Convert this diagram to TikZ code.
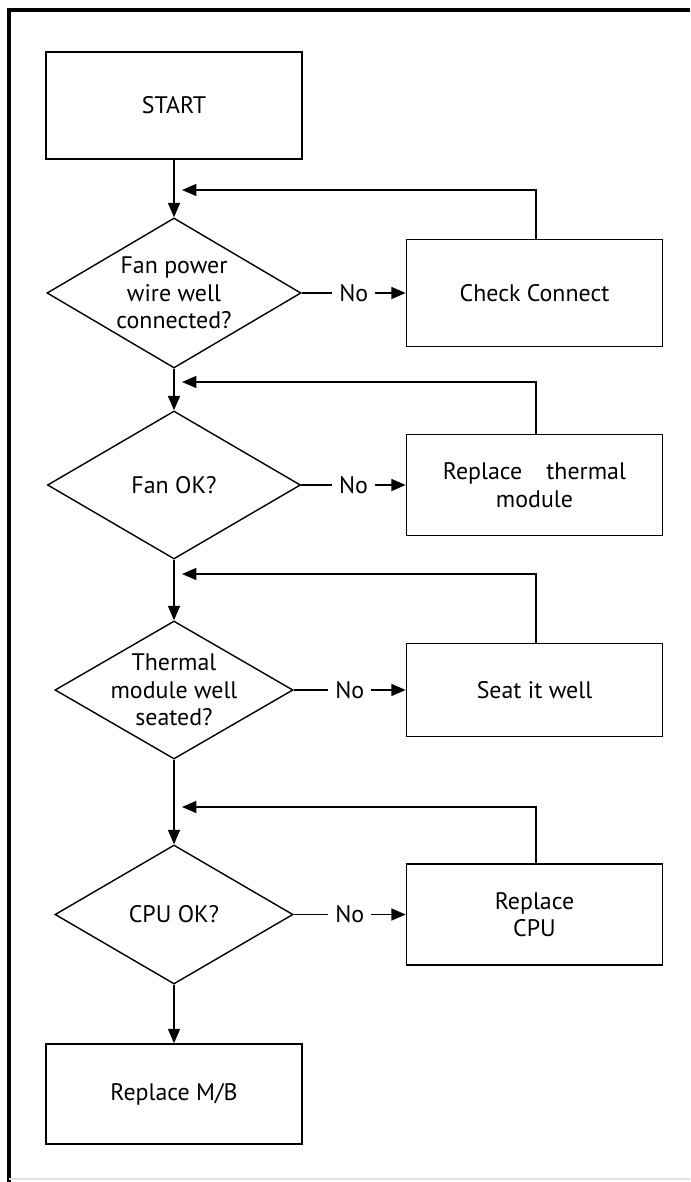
\documentclass[tikz,border=0pt]{standalone}
\usepackage{fontspec}
\setmainfont{PT Sans}
\usetikzlibrary{shapes.geometric,arrows.meta}
\begin{document}
\begin{tikzpicture} [x = 0.025cm, y = -0.025cm,
	font = \fontsize{17}{19.5}\selectfont,
	box/.style = {draw, line width = 1.1pt, minimum width = 6.4cm, inner sep = 0, align = center},
	decision/.style = {draw, diamond, line width = 1pt, inner sep = 0},
	arr/.style = {-{Triangle[length = 0.36cm, width = 0.3cm]}, line width = 1.1pt},
	nolabel/.style = {fill = white, inner xsep = 0.17cm, inner ysep = 0.05cm}]
	\useasboundingbox (0,0) rectangle (690,1182);
	\draw [line width = 2.6pt] (690,10) -- (9,10) -- (9,1182);
	\draw [black!12, line width = 1pt] (9,1179) -- (690,1179);
	\node [box, minimum height = 2.675cm] (start) at (174,105.5) {START};
	\node [decision, minimum width = 6.35cm, minimum height = 3.75cm,
		label = {[align = center]center:Fan power\\wire well\\connected?}] (fanwire) at (174,293) {};
	\node [box, minimum height = 2.675cm] (chkconn) at (534.5,293) {Check Connect};
	\node [decision, minimum width = 6.325cm, minimum height = 3.7cm,
		label = {center:Fan OK?}] (fanok) at (174,485) {};
	\node [box, minimum height = 2.525cm] (replthermal) at (534.5,485) {Replace\hspace{0.6cm}thermal\\module};
	\node [decision, minimum width = 5.95cm, minimum height = 3.45cm,
		label = {[align = center]center:Thermal\\module well\\seated?}] (seated) at (174,690) {};
	\node [box, minimum height = 2.325cm] (seatwell) at (534.5,690) {Seat it well};
	\node [decision, minimum width = 5.95cm, minimum height = 3.475cm,
		label = {center:CPU OK?}] (cpuok) at (174,914.5) {};
	\node [box, minimum height = 2.525cm] (replcpu) at (534.5,914.5) {Replace\\CPU};
	\node [box, minimum height = 2.5cm] (replmb) at (174,1094) {Replace M/B};
	\coordinate (back1) at (182,190);
	\coordinate (back2) at (182,382);
	\coordinate (back3) at (182,574);
	\coordinate (back4) at (182,807);
	\draw [arr] (start) -- (fanwire);
	\draw [arr] (fanwire) -- (fanok);
	\draw [arr] (fanok) -- (seated);
	\draw [arr] (seated) -- (cpuok);
	\draw [arr] (cpuok) -- (replmb);
	\draw [arr] (fanwire.east) -- node [nolabel] {No} (chkconn.west);
	\draw [arr] (fanok.east) -- node [nolabel] {No} (replthermal.west);
	\draw [arr] (seated.east) -- node [nolabel] {No} (seatwell.west);
	\draw [arr] (cpuok.east) -- node [nolabel] {No} (replcpu.west);
	\draw [arr] ([xshift = 0.04cm]chkconn.north) |- (back1);
	\draw [arr] ([xshift = 0.04cm]replthermal.north) |- (back2);
	\draw [arr] ([xshift = 0.04cm]seatwell.north) |- (back3);
	\draw [arr] ([xshift = 0.04cm]replcpu.north) |- (back4);
\end{tikzpicture}
\end{document}
